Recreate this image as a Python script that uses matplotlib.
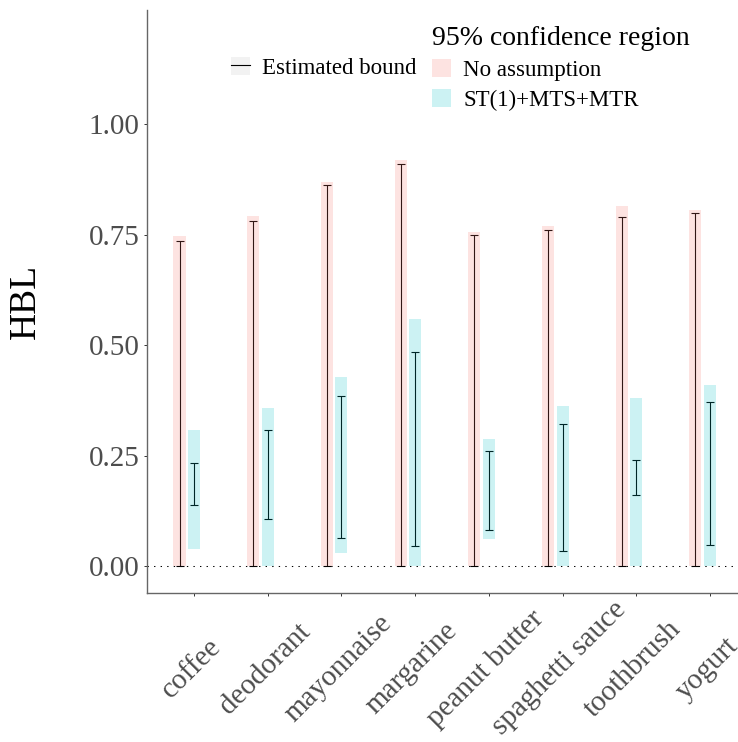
import numpy as np
import matplotlib
matplotlib.use("Agg")
import matplotlib.pyplot as plt
import matplotlib.transforms as mtransforms
from matplotlib.patches import Patch
from matplotlib.lines import Line2D
from matplotlib.legend_handler import HandlerTuple

plt.rcParams['font.family'] = ['Liberation Serif', 'DejaVu Serif']

# Data
categories = ['coffee', 'deodorant', 'mayonnaise', 'margarine',
              'peanut butter', 'spaghetti sauce', 'toothbrush', 'yogurt']

# No assumption: 95% confidence region and estimated bound
na_ci_lo = [0.0, 0.0, 0.0, 0.0, 0.0, 0.0, 0.0, 0.0]
na_ci_hi = [0.747, 0.792, 0.869, 0.918, 0.756, 0.769, 0.814, 0.805]
na_est_lo = [0.0, 0.0, 0.0, 0.0, 0.0, 0.0, 0.0, 0.0]
na_est_hi = [0.735, 0.781, 0.863, 0.909, 0.748, 0.760, 0.790, 0.798]

# ST(1)+MTS+MTR
st_ci_lo = [0.039, 0.0, 0.030, 0.0, 0.062, 0.0, 0.0, 0.0]
st_ci_hi = [0.308, 0.357, 0.428, 0.559, 0.287, 0.362, 0.380, 0.409]
st_est_lo = [0.137, 0.106, 0.064, 0.045, 0.081, 0.033, 0.161, 0.047]
st_est_hi = [0.232, 0.307, 0.385, 0.484, 0.260, 0.322, 0.240, 0.372]

pink = '#F8766D'
cyan = '#00BFC4'
grey30 = '#4D4D4D'

fig = plt.figure(figsize=(7.38, 7.42), dpi=100)
ax = fig.add_axes([147 / 738, 149 / 742, 1 - 147 / 738, 583.5 / 742])

x = np.arange(1, len(categories) + 1)
off = 0.197   # pink bars sit left of the tick
w = 0.163

def draw_group(xpos, ci_lo, ci_hi, est_lo, est_hi, color):
    ci_lo, ci_hi = np.array(ci_lo), np.array(ci_hi)
    est_lo, est_hi = np.array(est_lo), np.array(est_hi)
    mid = (est_lo + est_hi) / 2
    err = (est_hi - est_lo) / 2
    ax.errorbar(xpos, mid, yerr=err, fmt='none', ecolor='black',
                elinewidth=0.8, capsize=2.9, capthick=0.8, zorder=2)
    ax.bar(xpos, ci_hi - ci_lo, bottom=ci_lo, width=w, color=color,
           alpha=0.2, linewidth=0, zorder=3)

draw_group(x - off, na_ci_lo, na_ci_hi, na_est_lo, na_est_hi, pink)
draw_group(x, st_ci_lo, st_ci_hi, st_est_lo, st_est_hi, cyan)

ax.axhline(0, color='black', lw=0.75, linestyle=(0, (1.3, 5)), zorder=1)

ax.set_xlim(0.362, 8.381)
ax.set_ylim(-0.061, 1.259)

# axes styling (classic look)
for s in ['top', 'right']:
    ax.spines[s].set_visible(False)
for s in ['left', 'bottom']:
    ax.spines[s].set_color('#666666')
    ax.spines[s].set_linewidth(1.0)

ax.set_yticks([0, 0.25, 0.5, 0.75, 1.0])
ax.set_yticklabels(['0.00', '0.25', '0.50', '0.75', '1.00'])
ax.tick_params(axis='both', colors='#333333', length=2.5, width=0.7,
               labelcolor=grey30, labelsize=21)
ax.tick_params(axis='y', pad=3)

# x labels: centred on a point below each tick
ax.set_xticks(x)
ax.set_xticklabels(categories, rotation=45, ha='center', va='center',
                   rotation_mode='anchor')
ax.tick_params(axis='x', pad=52)
shift = mtransforms.ScaledTranslation(-3 / 100, 0, fig.dpi_scale_trans)
for lab in ax.get_xticklabels():
    lab.set_transform(lab.get_transform() + shift)

ax.set_ylabel('HBL', fontsize=27, color='black')
ax.yaxis.set_label_coords(-0.176, 0.5)

# legends
h_na = Patch(facecolor=pink, alpha=0.2, edgecolor='none')
h_st = Patch(facecolor=cyan, alpha=0.2, edgecolor='none')
leg1 = fig.legend([h_na, h_st], ['No assumption', 'ST(1)+MTS+MTR'],
                  title='95% confidence region', loc='upper left',
                  bbox_to_anchor=(432 / 738, 1 - 26 / 742),
                  frameon=False, fontsize=16.5, title_fontsize=20,
                  alignment='left', borderpad=0, borderaxespad=0,
                  handlelength=0.82, handleheight=0.82, handletextpad=0.55,
                  labelspacing=0.36)

h_bg = Patch(facecolor='#F2F2F2', edgecolor='none')
h_line = Line2D([], [], color='black', lw=0.8)
leg2 = fig.legend([(h_bg, h_line)], ['Estimated bound'], loc='center left',
                  bbox_to_anchor=(231 / 738, 1 - 68 / 742),
                  frameon=False, fontsize=16.5, borderpad=0, borderaxespad=0,
                  handlelength=0.82, handleheight=0.82, handletextpad=0.55,
                  handler_map={tuple: HandlerTuple(ndivide=1, pad=0)})

fig.savefig('out.png', dpi=100)
